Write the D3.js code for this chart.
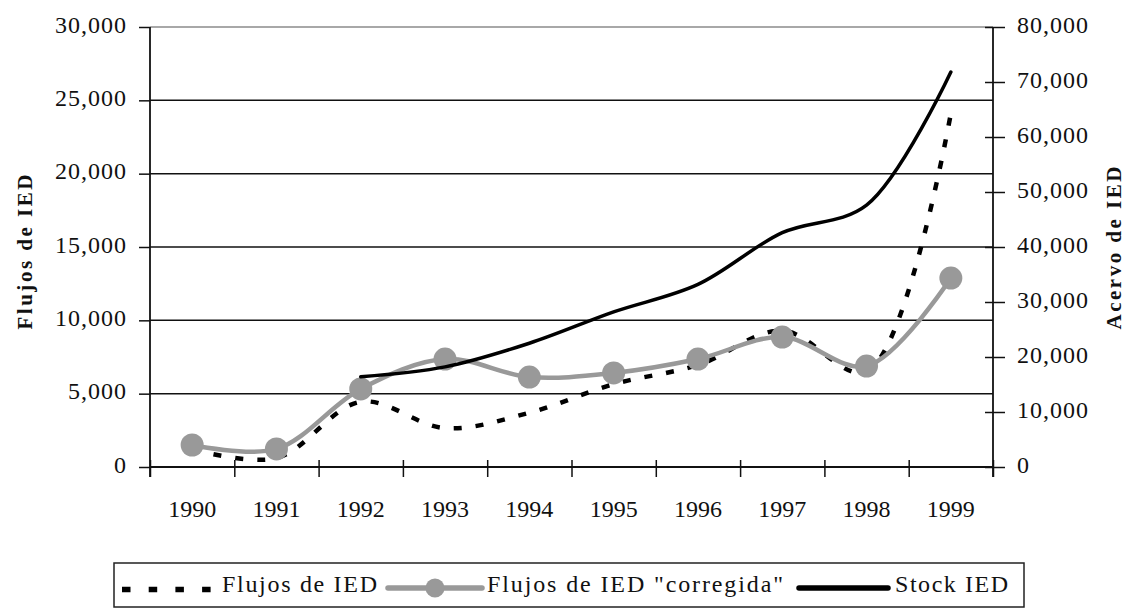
<!DOCTYPE html>
<html>
<head>
<meta charset="utf-8">
<script src="https://cdn.jsdelivr.net/npm/d3@7"></script>
<style>
  html, body { margin: 0; padding: 0; background: #fff; }
  svg { display: block; }
  text { font-family: "Liberation Serif", "Times New Roman", serif; fill: #111; }
</style>
</head>
<body>
<svg id="chart" width="1128" height="611"></svg>
<script>
// ---- data ----
const years = ["1990","1991","1992","1993","1994","1995","1996","1997","1998","1999"];
const flujos = [1200, 600, 4450, 2650, 3700, 5650, 6950, 9300, 6500, 24100];
const corregida = [1500, 1230, 5320, 7360, 6130, 6410, 7360, 8860, 6880, 12880];
const stock = [null, null, 16400, 18200, 22500, 28200, 33200, 42600, 47600, 71800];
const leftTicks = [0, 5000, 10000, 15000, 20000, 25000, 30000];
const rightTicks = [0, 10000, 20000, 30000, 40000, 50000, 60000, 70000, 80000];
const seriesNames = ["Flujos de IED", "Flujos de IED \"corregida\"", "Stock IED"];
const leftTitle = "Flujos de IED";
const rightTitle = "Acervo de IED";

// ---- layout ----
const L = 150, R = 993, T = 27, B = 467;
const svg = d3.select("#chart");

const x = d3.scaleBand().domain(years).range([L, R]).padding(0);
const xb = d3.scaleLinear().domain([0, years.length]).range([L, R]);
const yL = d3.scaleLinear().domain([0, 30000]).range([B, T]);
const yR = d3.scaleLinear().domain([0, 80000]).range([B, T]);
const cx = d => x(d) + x.bandwidth() / 2;

// gridlines
svg.append("g").selectAll("line").data(leftTicks.filter(d => d > 0)).join("line")
  .attr("x1", L).attr("x2", R)
  .attr("y1", d => yL(d)).attr("y2", d => yL(d))
  .attr("stroke", d => d === 30000 ? "#a8a8a8" : "#111")
  .attr("stroke-width", d => d === 30000 ? 2 : 1.5);

// left axis
const gL = svg.append("g").attr("transform", `translate(${L},0)`)
  .call(d3.axisLeft(yL).tickValues(leftTicks).tickFormat(d3.format(",")).tickSize(11).tickPadding(12));
gL.select(".domain").remove();
gL.selectAll(".tick line").attr("stroke", "#111").attr("stroke-width", 1.5);
gL.selectAll(".tick text").attr("font-size", 24).attr("dy", "0.22em").attr("letter-spacing", 1)
  .style("font-family", "Liberation Serif").attr("fill", "#111");

// right axis
const gR = svg.append("g").attr("transform", `translate(${R},0)`)
  .call(d3.axisRight(yR).tickValues(rightTicks).tickFormat(d3.format(",")).tickSize(12).tickPadding(12));
gR.select(".domain").remove();
gR.selectAll(".tick line").attr("x1", -8).attr("stroke", "#111").attr("stroke-width", 1.5);
gR.selectAll(".tick text").attr("font-size", 24).attr("dy", "0.22em").attr("letter-spacing", 1)
  .style("font-family", "Liberation Serif").attr("fill", "#111");

// bottom axis: ticks at band boundaries
const gB = svg.append("g").attr("transform", `translate(0,${B})`)
  .call(d3.axisBottom(xb).ticks(years.length).tickFormat("").tickSize(10));
gB.select(".domain").remove();
gB.selectAll(".tick line").attr("y1", -7).attr("stroke", "#111").attr("stroke-width", 1.5);
// labels at band centres
const gBL = svg.append("g").attr("transform", `translate(0,${B})`)
  .call(d3.axisBottom(x).tickSize(0).tickPadding(0));
gBL.select(".domain").remove();
gBL.selectAll(".tick text").attr("font-size", 24).attr("y", 50).attr("dy", 0)
  .style("font-family", "Liberation Serif").attr("fill", "#111");

// axis lines
svg.append("line").attr("x1", L).attr("x2", L).attr("y1", T).attr("y2", B + 10).attr("stroke", "#111").attr("stroke-width", 1.8);
svg.append("line").attr("x1", R).attr("x2", R).attr("y1", T).attr("y2", B + 10).attr("stroke", "#111").attr("stroke-width", 1.8);
svg.append("line").attr("x1", L).attr("x2", R).attr("y1", B).attr("y2", B).attr("stroke", "#111").attr("stroke-width", 1.8);

// axis titles
svg.append("text").attr("transform", `translate(32,${252}) rotate(-90)`)
  .attr("text-anchor", "middle").attr("font-size", 21).attr("font-weight", "bold")
  .attr("textLength", 155).attr("lengthAdjust", "spacing").text(leftTitle);
svg.append("text").attr("transform", `translate(1121,${248}) rotate(-90)`)
  .attr("text-anchor", "middle").attr("font-size", 21).attr("font-weight", "bold")
  .attr("textLength", 163).attr("lengthAdjust", "spacing").text(rightTitle);

// ---- series ----
const curve = d3.curveCatmullRom.alpha(0.5);
const lineL = d3.line().defined(d => d.v != null).x(d => cx(d.y)).y(d => yL(d.v)).curve(curve);
const lineR = d3.line().defined(d => d.v != null).x(d => cx(d.y)).y(d => yR(d.v)).curve(curve);

const flujosData = years.map((y, i) => ({ y, v: flujos[i] }));
const corrData = years.map((y, i) => ({ y, v: corregida[i] }));
const stockData = years.map((y, i) => ({ y, v: stock[i] })).filter(d => d.v != null);

svg.append("path").datum(flujosData).attr("d", lineL)
  .attr("fill", "none").attr("stroke", "#000").attr("stroke-width", 4.5)
  .attr("stroke-dasharray", "8,14");

svg.append("path").datum(corrData).attr("d", lineL)
  .attr("fill", "none").attr("stroke", "#999").attr("stroke-width", 4.5);
svg.append("g").selectAll("circle").data(corrData).join("circle")
  .attr("cx", d => cx(d.y)).attr("cy", d => yL(d.v)).attr("r", 11.5).attr("fill", "#999");

svg.append("path").datum(stockData).attr("d", lineR)
  .attr("fill", "none").attr("stroke", "#000").attr("stroke-width", 3.5).attr("stroke-linecap", "round");

// ---- legend ----
const lg = svg.append("g");
lg.append("rect").attr("x", 114).attr("y", 563).attr("width", 910).attr("height", 44)
  .attr("fill", "#fff").attr("stroke", "#222").attr("stroke-width", 1.5);
lg.append("line").attr("x1", 122).attr("x2", 212).attr("y1", 589.5).attr("y2", 589.5)
  .attr("stroke", "#000").attr("stroke-width", 5.5).attr("stroke-dasharray", "8.5,18.2");
lg.append("text").attr("x", 222).attr("y", 592).attr("font-size", 24)
  .attr("textLength", 155).attr("lengthAdjust", "spacing").text(seriesNames[0]);
lg.append("line").attr("x1", 388).attr("x2", 482).attr("y1", 588).attr("y2", 588)
  .attr("stroke", "#999").attr("stroke-width", 5.5).attr("stroke-linecap", "round");
lg.append("circle").attr("cx", 435).attr("cy", 588).attr("r", 9.5).attr("fill", "#999");
lg.append("text").attr("x", 487).attr("y", 592).attr("font-size", 24)
  .attr("textLength", 296).attr("lengthAdjust", "spacing").text(seriesNames[1]);
lg.append("line").attr("x1", 799).attr("x2", 888).attr("y1", 588).attr("y2", 588)
  .attr("stroke", "#000").attr("stroke-width", 5.5).attr("stroke-linecap", "round");
lg.append("text").attr("x", 895).attr("y", 592).attr("font-size", 24)
  .attr("textLength", 113).attr("lengthAdjust", "spacing").text(seriesNames[2]);
</script>
</body>
</html>
